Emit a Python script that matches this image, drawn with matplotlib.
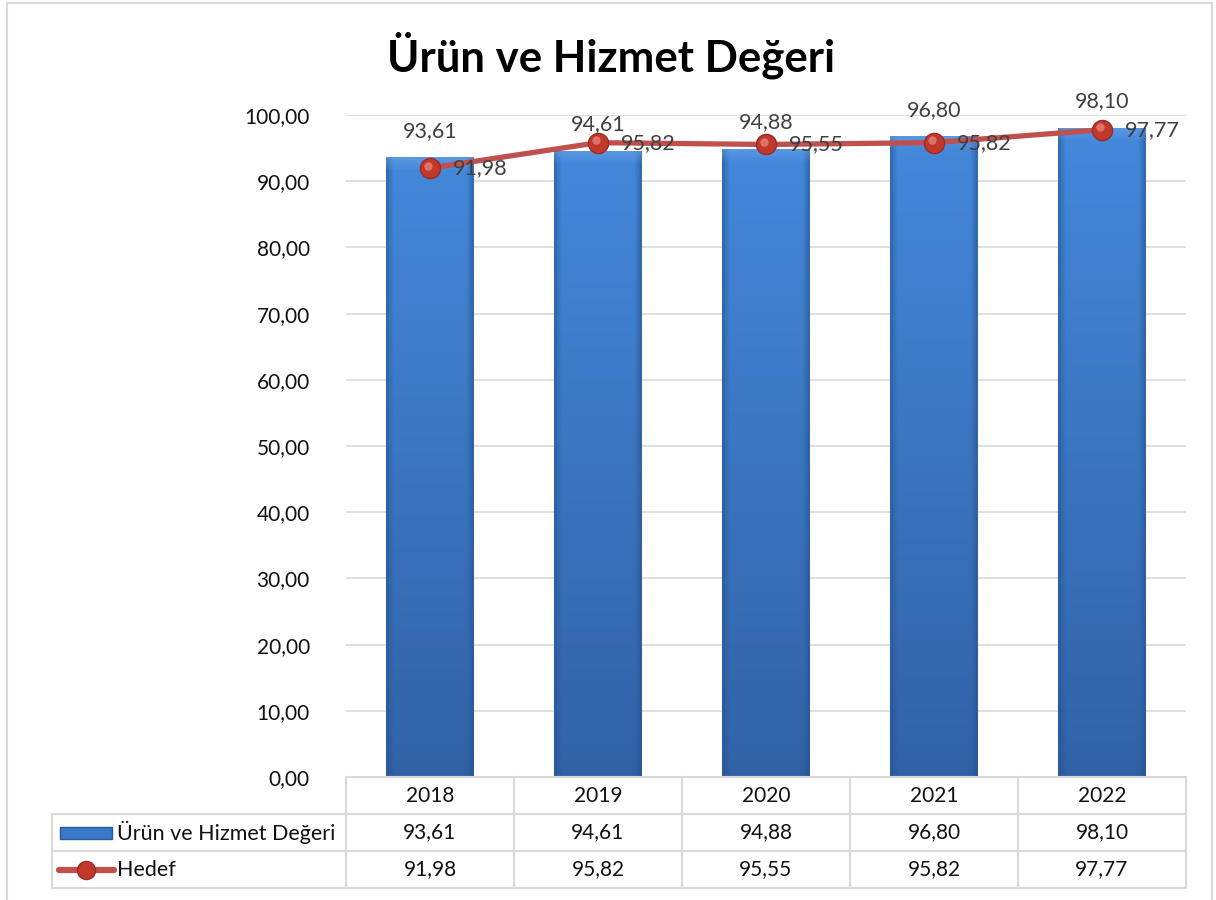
import numpy as np
import matplotlib
matplotlib.use("Agg")
import matplotlib.pyplot as plt
from matplotlib.patches import Rectangle
from matplotlib.colors import to_rgb
import matplotlib.transforms as mtransforms

plt.rcParams["font.family"] = ["Lato", "DejaVu Sans"]

# data
years = ["2018", "2019", "2020", "2021", "2022"]
urun = [93.61, 94.61, 94.88, 96.80, 98.10]
hedef = [91.98, 95.82, 95.55, 95.82, 97.77]
series_names = ["Ürün ve Hizmet Değeri", "Hedef"]
title = "Ürün ve Hizmet Değeri"
yticks = [0, 10, 20, 30, 40, 50, 60, 70, 80, 90, 100]


def fmt(v):
    return f"{v:.2f}".replace(".", ",")


W, H = 1216, 900
fig = plt.figure(figsize=(W / 100, H / 100), dpi=100)

# outer frame
fig.patches.append(Rectangle((7 / W, -0.05), (1212 - 7) / W, 1.05 - 3 / H,
                             transform=fig.transFigure, fill=False,
                             edgecolor="#d9d9d9", lw=1.5))

ax_l, ax_r, ax_t, ax_b = 346, 1186, 115, 777
ax = fig.add_axes([ax_l / W, 1 - ax_b / H, (ax_r - ax_l) / W, (ax_b - ax_t) / H])
ax.set_xlim(-0.5, len(years) - 0.5)
ax.set_ylim(0, 100)
ax.set_yticks(yticks)
ax.set_yticklabels([fmt(v) for v in yticks], fontsize=15, color="#111111")
ax.tick_params(axis="y", length=0, pad=26)
ax.tick_params(axis="x", length=0, labelbottom=False)
for s in ax.spines.values():
    s.set_visible(False)
ax.grid(axis="y", color="#d9d9d9", lw=1.2)
ax.set_axisbelow(True)

x = np.arange(len(years))
bw = 0.52

# bars with gradient fill
top_c = np.array(to_rgb("#4488da"))
bot_c = np.array(to_rgb("#3162a6"))
edge_c = np.array(to_rgb("#24508e"))
for xi, v in zip(x, urun):
    rect = Rectangle((xi - bw / 2, 0), bw, v, facecolor="none", edgecolor="none")
    ax.add_patch(rect)
    ny, nx = 200, 60
    t = np.linspace(0, 1, ny)[:, None, None]  # 0 top -> 1 bottom
    base = top_c * (1 - t) + bot_c * t
    u = np.abs(np.linspace(-1, 1, nx))[None, :, None]
    k = np.clip((u - 0.84) / 0.16, 0, 1)
    img = base * (1 - 0.55 * k) + edge_c * 0.55 * k
    # lighter top bevel
    tb = np.clip(1 - np.linspace(0, 1, ny) / 0.02, 0, 1)[:, None, None]
    img = img * (1 - 0.5 * tb) + np.array(to_rgb("#6fa6ea")) * 0.5 * tb
    im = ax.imshow(img, extent=(xi - bw / 2, xi + bw / 2, 0, v), aspect="auto",
                   origin="upper", zorder=2)
    im.set_clip_path(rect)
    ax.annotate(fmt(v), (xi, v), xytext=(0, 19), textcoords="offset points",
                ha="center", va="center", fontsize=15.5, color="#404040", zorder=6)

# target line
ax.plot(x, hedef, color="#c0504d", lw=3.8, zorder=4, solid_capstyle="round")
ax.plot(x, hedef, "o", ms=14.5, mfc="#c0392b", mec="#9e2a26", mew=1, zorder=5)
ax.plot(x - 0.012, np.array(hedef) + 0.35, "o", ms=6, mfc="#e8807a", mec="none",
        alpha=0.8, zorder=5)
for xi, v in zip(x, hedef):
    ax.annotate(fmt(v), (xi, v), xytext=(16.5, 0), textcoords="offset points",
                ha="left", va="center", fontsize=15.5, color="#404040", zorder=6)

# data table under the axes
trans = mtransforms.blended_transform_factory(ax.transData, ax.transAxes)
row_h = 37 / (ax_b - ax_t)
left_x = -0.5 - (ax_l - 52) / ((ax_r - ax_l) / len(years))
grid_kw = dict(color="#d9d9d9", lw=1.5, transform=trans, clip_on=False)

# horizontal lines
ax.plot([-0.5, len(years) - 0.5], [0, 0], **grid_kw)
for r in (1, 2, 3):
    ax.plot([left_x, len(years) - 0.5], [-r * row_h, -r * row_h], **grid_kw)
# vertical lines
ax.plot([left_x, left_x], [-row_h, -3 * row_h], **grid_kw)
for b in np.arange(len(years) + 1) - 0.5:
    ax.plot([b, b], [0, -3 * row_h], **grid_kw)

for xi, yr, a, h in zip(x, years, urun, hedef):
    ax.text(xi, -0.5 * row_h, yr, transform=trans, ha="center", va="center",
            fontsize=15, color="#111111")
    ax.text(xi, -1.5 * row_h, fmt(a), transform=trans, ha="center", va="center",
            fontsize=15, color="#111111")
    ax.text(xi, -2.5 * row_h, fmt(h), transform=trans, ha="center", va="center",
            fontsize=15, color="#111111")

# legend keys inside table
px = (ax_r - ax_l) / len(years)
def dx(p):
    return -0.5 + (p - ax_l) / px

ax.add_patch(Rectangle((dx(60), -1.5 * row_h - 6 / 662), dx(112) - dx(60), 12 / 662,
                       transform=trans, clip_on=False, facecolor="#3a78c8",
                       edgecolor="#2a5a9a", lw=1))
ax.plot([dx(59), dx(114)], [-2.5 * row_h] * 2, color="#c0504d", lw=4.5,
        transform=trans, clip_on=False, solid_capstyle="round")
ax.plot([dx(86)], [-2.5 * row_h], "o", ms=13, mfc="#c0392b", mec="#9e2a26",
        transform=trans, clip_on=False)
ax.text(dx(117), -1.5 * row_h, series_names[0], transform=trans, ha="left",
        va="center", fontsize=15.5, color="#111111")
ax.text(dx(117), -2.5 * row_h, series_names[1], transform=trans, ha="left",
        va="center", fontsize=15.5, color="#111111")

fig.text(611 / W, 1 - 55 / H, title, ha="center", va="center", fontsize=31.5,
         fontweight="bold", color="black")

fig.savefig("out.png", dpi=100)
